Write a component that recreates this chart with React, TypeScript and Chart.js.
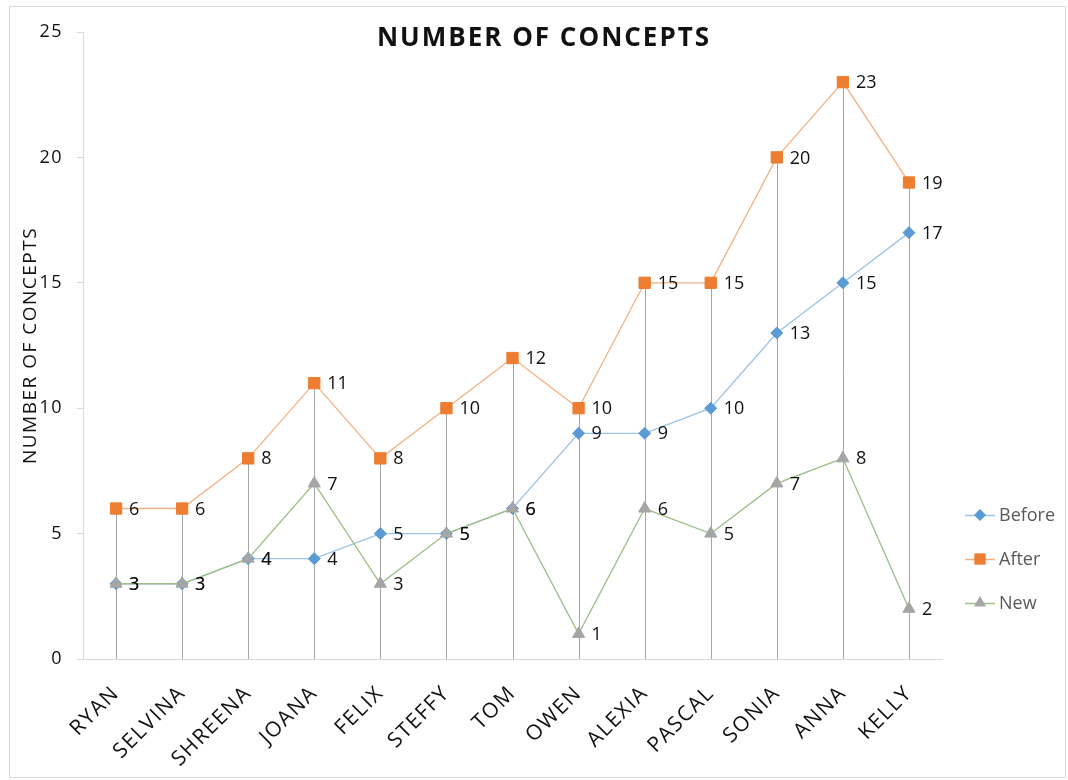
import React, { useEffect, useRef } from "react";
import { Chart, registerables } from "chart.js";

Chart.register(...registerables);

const categories = ["RYAN", "SELVINA", "SHREENA", "JOANA", "FELIX", "STEFFY", "TOM", "OWEN", "ALEXIA", "PASCAL", "SONIA", "ANNA", "KELLY"];
const beforeValues = [3, 3, 4, 4, 5, 5, 6, 9, 9, 10, 13, 15, 17];
const afterValues = [6, 6, 8, 11, 8, 10, 12, 10, 15, 15, 20, 23, 19];
const newValues = [3, 3, 4, 7, 3, 5, 6, 1, 6, 5, 7, 8, 2];
const yTicks = [0, 5, 10, 15, 20, 25];

const FONT = "'Open Sans', 'Noto Sans', sans-serif";

const seriesStyles = [
  { label: "Before", data: beforeValues, line: "#9DC3E6", marker: "#5B9BD5", shape: "rectRot", radius: 6, order: 3 },
  { label: "After", data: afterValues, line: "#F4B183", marker: "#ED7D31", shape: "rect", radius: 8, order: 2 },
  { label: "New", data: newValues, line: "#9CBF85", marker: "#A5A5A5", shape: "triangle", radius: 7, order: 1 },
];

function drawMarker(ctx: CanvasRenderingContext2D, shape: string, r: number, x: number, y: number) {
  ctx.beginPath();
  if (shape === "rect") {
    const s = r * Math.SQRT1_2;
    ctx.rect(x - s, y - s, 2 * s, 2 * s);
  } else if (shape === "rectRot") {
    ctx.moveTo(x, y - r);
    ctx.lineTo(x + r, y);
    ctx.lineTo(x, y + r);
    ctx.lineTo(x - r, y);
    ctx.closePath();
  } else {
    ctx.moveTo(x, y - r);
    ctx.lineTo(x + r * 0.866, y + r * 0.5);
    ctx.lineTo(x - r * 0.866, y + r * 0.5);
    ctx.closePath();
  }
  ctx.fill();
}

const framePlugin = {
  id: "frame",
  beforeDraw(chart: any) {
    const ctx = chart.ctx;
    ctx.save();
    ctx.fillStyle = "#fff";
    ctx.fillRect(0, 0, chart.width, chart.height);
    ctx.strokeStyle = "#d9d9d9";
    ctx.lineWidth = 1;
    ctx.strokeRect(9.5, 6.5, 1056, 771);
    ctx.restore();
    (ctx as any).letterSpacing = "1.5px";
  },
};

const dropLinesPlugin = {
  id: "dropLines",
  beforeDatasetsDraw(chart: any) {
    const ctx = chart.ctx;
    (ctx as any).letterSpacing = "0px";
    const x = chart.scales.x;
    const y = chart.scales.y;
    ctx.save();
    ctx.strokeStyle = "#A6A6A6";
    ctx.lineWidth = 1;
    categories.forEach((_, i) => {
      const max = Math.max(...chart.data.datasets.map((d: any) => d.data[i]));
      const px = Math.round(x.getPixelForValue(i)) + 0.5;
      ctx.beginPath();
      ctx.moveTo(px, y.getPixelForValue(max));
      ctx.lineTo(px, y.getPixelForValue(0));
      ctx.stroke();
    });
    ctx.restore();
  },
};

const labelsPlugin = {
  id: "valueLabels",
  afterDatasetsDraw(chart: any) {
    const ctx = chart.ctx;
    ctx.save();
    ctx.font = `18px ${FONT}`;
    ctx.fillStyle = "#111";
    ctx.textAlign = "left";
    ctx.textBaseline = "middle";
    chart.data.datasets.forEach((ds: any, di: number) => {
      const meta = chart.getDatasetMeta(di);
      meta.data.forEach((el: any, i: number) => {
        ctx.fillText(String(ds.data[i]), el.x + 13, el.y + 1);
      });
    });
    ctx.restore();
  },
};

const titlePlugin = {
  id: "customTitle",
  afterDraw(chart: any) {
    const ctx = chart.ctx;
    ctx.save();
    ctx.font = `bold 26px ${FONT}`;
    (ctx as any).letterSpacing = "2px";
    ctx.fillStyle = "#111";
    ctx.textAlign = "center";
    ctx.textBaseline = "middle";
    ctx.fillText("NUMBER OF CONCEPTS", 544, 39);
    ctx.restore();
  },
};

const legendPlugin = {
  id: "customLegend",
  afterDraw(chart: any) {
    const ctx = chart.ctx;
    const rows = [515, 559, 603];
    ctx.save();
    (ctx as any).letterSpacing = "0px";
    seriesStyles.forEach((s, i) => {
      ctx.strokeStyle = s.line;
      ctx.lineWidth = 1.5;
      ctx.beginPath();
      ctx.moveTo(965, rows[i] + 0.5);
      ctx.lineTo(995, rows[i] + 0.5);
      ctx.stroke();
      ctx.fillStyle = s.marker;
      drawMarker(ctx, s.shape, s.radius, 980, rows[i]);
      ctx.font = `18px ${FONT}`;
      ctx.fillStyle = "#595959";
      ctx.textAlign = "left";
      ctx.textBaseline = "middle";
      ctx.fillText(s.label, 999, rows[i] + 1);
    });
    ctx.restore();
  },
};

export default function App() {
  const ref = useRef<HTMLCanvasElement | null>(null);
  useEffect(() => {
    if (!ref.current) return;
    const chart = new Chart(ref.current, {
      type: "line",
      data: {
        labels: categories,
        datasets: seriesStyles.map((s) => ({
          label: s.label,
          data: s.data,
          order: s.order,
          borderColor: s.line,
          backgroundColor: s.marker,
          borderWidth: 1.3,
          pointStyle: s.shape as any,
          pointRadius: s.radius,
          pointBackgroundColor: s.marker,
          pointBorderColor: s.marker,
          pointBorderWidth: 1,
          tension: 0,
        })),
      },
      options: {
        responsive: false,
        animation: false,
        events: [],
        layout: { padding: { left: 10, top: 32, right: 126, bottom: 2 } },
        plugins: {
          legend: { display: false },
          title: { display: false },
          tooltip: { enabled: false },
        },
        scales: {
          x: {
            type: "category",
            offset: true,
            grid: { display: false },
            border: { display: true, color: "#D9D9D9", width: 1 },
            ticks: {
              maxRotation: 45,
              minRotation: 45,
              autoSkip: false,
              padding: 14,
              color: "#111",
              font: { family: FONT, size: 21 },
            },
            afterFit(scale: any) {
              scale.height = 119;
            },
          },
          y: {
            min: 0,
            max: 25,
            afterBuildTicks(scale: any) {
              scale.ticks = yTicks.map((v) => ({ value: v }));
            },
            grid: { drawOnChartArea: false, drawTicks: true, tickLength: 6, color: "#D9D9D9" },
            border: { display: true, color: "#D9D9D9", width: 1 },
            ticks: {
              padding: 14,
              color: "#111",
              font: { family: FONT, size: 18 },
            },
            title: {
              display: true,
              text: "NUMBER OF CONCEPTS",
              color: "#111",
              font: { family: FONT, size: 19 },
              padding: { top: 9, bottom: 0 },
            },
            afterFit(scale: any) {
              scale.width = 73;
            },
          },
        },
      },
      plugins: [framePlugin, dropLinesPlugin, labelsPlugin, titlePlugin, legendPlugin],
    });
    return () => chart.destroy();
  }, []);
  return (
    <div style={{ position: "fixed", left: 0, top: 0, width: 1068, height: 780 }}>
      <canvas ref={ref} width={1068} height={780} style={{ display: "block" }} />
    </div>
  );
}
